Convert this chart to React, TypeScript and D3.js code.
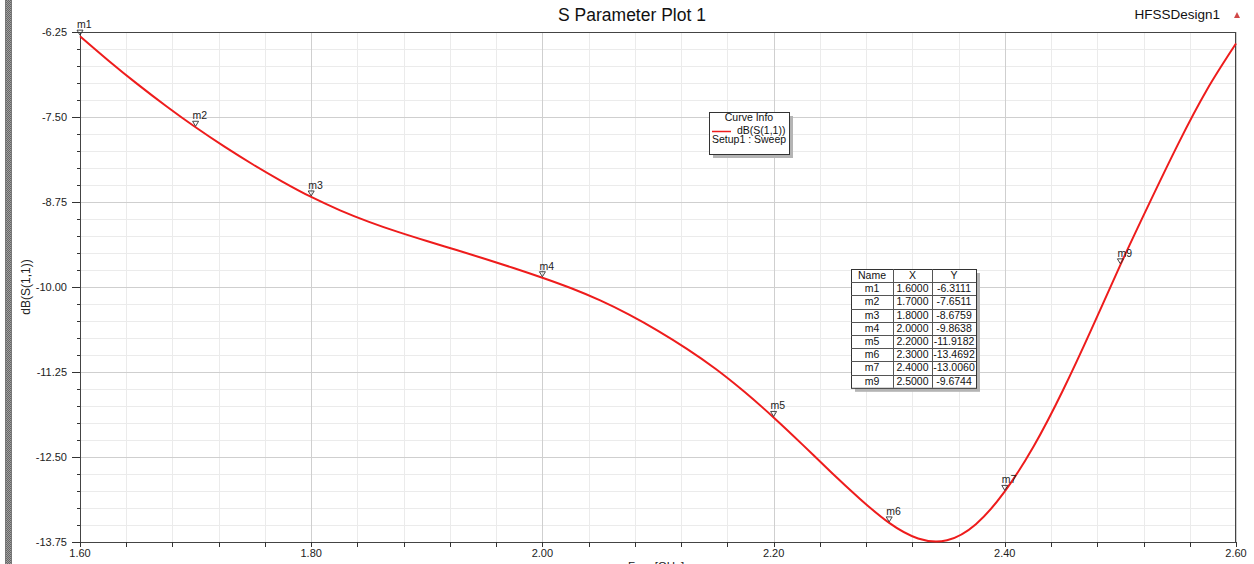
import React from "react";
import * as d3 from "d3";

// ---- Data ----
const freqGHz = [1.6, 1.625, 1.65, 1.675, 1.7, 1.725, 1.75, 1.775, 1.8, 1.825, 1.85, 1.875, 1.9, 1.925, 1.95, 1.975, 2.0, 2.025, 2.05, 2.075, 2.1, 2.125, 2.15, 2.175, 2.2, 2.225, 2.25, 2.275, 2.3, 2.325, 2.35, 2.375, 2.4, 2.425, 2.45, 2.475, 2.5, 2.525, 2.55, 2.575, 2.6];
const s11dB = [-6.3111, -6.675, -7.02, -7.345, -7.6511, -7.936, -8.202, -8.449, -8.6759, -8.872, -9.042, -9.19, -9.324, -9.453, -9.584, -9.72, -9.8638, -10.019, -10.198, -10.407, -10.645, -10.91, -11.206, -11.545, -11.9182, -12.318, -12.728, -13.12, -13.4692, -13.698, -13.724, -13.488, -13.006, -12.343, -11.53, -10.62, -9.6744, -8.77, -7.895, -7.095, -6.42];

const markerNames = ["m1", "m2", "m3", "m4", "m5", "m6", "m7", "m9"];
const markerX = [1.6, 1.7, 1.8, 2.0, 2.2, 2.3, 2.4, 2.5];
const markerY = [-6.3111, -7.6511, -8.6759, -9.8638, -11.9182, -13.4692, -13.006, -9.6744];

const xMajorTicks = [1.6, 1.8, 2.0, 2.2, 2.4, 2.6];
const yMajorTicks = [-6.25, -7.5, -8.75, -10.0, -11.25, -12.5, -13.75];
const xMinorStep = 0.04;
const yMinorStep = 0.25;

const title = "S Parameter Plot 1";
const designName = "HFSSDesign1";
const xLabel = "Freq [GHz]";
const yLabel = "dB(S(1,1))";
const legendTitle = "Curve Info";
const legendTrace = "dB(S(1,1))";
const legendSetup = "Setup1 : Sweep";
const tableHeader = ["Name", "X", "Y"];

const W = 1254;
const H = 564;
const PL = 80, PR = 1236, PT = 32, PB = 542;
const FONT = "'Liberation Sans', Arial, sans-serif";

export default function App() {
  const x = d3.scaleLinear().domain([1.6, 2.6]).range([PL, PR]);
  const y = d3.scaleLinear().domain([-13.75, -6.25]).range([PB, PT]);
  const fmt = (v: number) => v.toFixed(2);
  const fmt4 = (v: number) => v.toFixed(4);

  const xMinor = d3.range(0, Math.round(1.0 / xMinorStep) + 1).map((i) => 1.6 + i * xMinorStep);
  const yMinor = d3.range(0, Math.round(7.5 / yMinorStep) + 1).map((i) => -6.25 - i * yMinorStep);
  const isXMajor = (v: number) => xMajorTicks.some((t) => Math.abs(t - v) < 1e-6);
  const isYMajor = (v: number) => yMajorTicks.some((t) => Math.abs(t - v) < 1e-6);
  const px = (v: number) => Math.round(x(v)) + 0.5;
  const py = (v: number) => Math.round(y(v)) + 0.5;

  const pts: [number, number][] = freqGHz.map((f, i) => [f, s11dB[i]]);
  const line = d3
    .line<[number, number]>()
    .x((d) => x(d[0]))
    .y((d) => y(d[1]))
    .curve(d3.curveNatural);

  // legend box
  const lgX = 709, lgY = 112, lgW = 80, lgH = 42;
  // table
  const tbX = 851, tbY = 269, rowH = 13.2;
  const colW = [42, 39, 44];
  const tbW = colW[0] + colW[1] + colW[2];
  const tbH = rowH * (markerNames.length + 1);
  const colX = [tbX, tbX + colW[0], tbX + colW[0] + colW[1], tbX + tbW];

  return (
    <svg
      width={W}
      height={H}
      style={{ position: "absolute", left: 0, top: 0, display: "block", background: "#fff" }}
      fontFamily={FONT}
    >
      <defs>
        <pattern id="dither" width={2} height={2} patternUnits="userSpaceOnUse">
          <rect width={2} height={2} fill="#a0a0a0" />
          <rect width={1} height={1} fill="#666" />
          <rect x={1} y={1} width={1} height={1} fill="#666" />
        </pattern>
      </defs>
      <rect x={0} y={0} width={W} height={H} fill="#fff" />
      {/* left dithered bar */}
      <rect x={5} y={0} width={7} height={H} fill="url(#dither)" />
      <rect x={5} y={0} width={1} height={H} fill="#777" />
      <rect x={11} y={0} width={1} height={H} fill="#777" />

      {/* title */}
      <text x={632} y={21} textAnchor="middle" fontSize={17.5} fill="#111">{title}</text>
      <text x={1220} y={19} textAnchor="end" fontSize={13.5} fill="#111">{designName}</text>
      <path d="M1234,18 L1237,12 L1240,18 Z" fill="#d04848" />

      {/* grid */}
      {xMinor.map((v, i) =>
        isXMajor(v) ? null : (
          <line key={"gx" + i} x1={px(v)} x2={px(v)} y1={PT} y2={PB} stroke="#ebebeb" strokeWidth={1} />
        )
      )}
      {yMinor.map((v, i) =>
        isYMajor(v) ? null : (
          <line key={"gy" + i} x1={PL} x2={PR} y1={py(v)} y2={py(v)} stroke="#ebebeb" strokeWidth={1} />
        )
      )}
      {xMajorTicks.map((v, i) => (
        <line key={"gX" + i} x1={px(v)} x2={px(v)} y1={PT} y2={PB} stroke="#cfcfcf" strokeWidth={1} />
      ))}
      {yMajorTicks.map((v, i) => (
        <line key={"gY" + i} x1={PL} x2={PR} y1={py(v)} y2={py(v)} stroke="#cfcfcf" strokeWidth={1} />
      ))}

      {/* plot frame */}
      <rect x={PL + 0.5} y={PT + 0.5} width={PR - PL - 1} height={PB - PT} fill="none" stroke="#444" strokeWidth={1} />

      {/* y ticks */}
      {yMinor.map((v, i) => (
        <line key={"ty" + i} x1={isYMajor(v) ? PL - 8 : PL - 3} x2={PL} y1={py(v)} y2={py(v)} stroke="#333" strokeWidth={1} />
      ))}
      {yMajorTicks.map((v, i) => (
        <text key={"ly" + i} x={67} y={y(v) + 4} textAnchor="end" fontSize={11} fill="#222">{fmt(v)}</text>
      ))}
      {/* x ticks */}
      {xMinor.map((v, i) => (
        <line key={"tx" + i} x1={px(v)} x2={px(v)} y1={PB} y2={PB + 5} stroke="#333" strokeWidth={1} />
      ))}
      {xMajorTicks.map((v, i) => (
        <text key={"lx" + i} x={x(v)} y={557} textAnchor="middle" fontSize={11} fill="#222">{fmt(v)}</text>
      ))}

      {/* axis labels */}
      <text x={656} y={570} textAnchor="middle" fontSize={11.5} fill="#222">{xLabel}</text>
      <text transform={`translate(30,${(PT + PB) / 2}) rotate(-90)`} textAnchor="middle" fontSize={12} fill="#222">{yLabel}</text>

      {/* curve */}
      <path d={line(pts) || ""} fill="none" stroke="#ee1c1c" strokeWidth={2} />

      {/* markers */}
      {markerNames.map((n, i) => {
        const mx = x(markerX[i]);
        const my = y(markerY[i]);
        return (
          <g key={"m" + i}>
            <path d={`M${mx - 3},${my - 6} L${mx + 3},${my - 6} L${mx},${my - 1} Z`} fill="none" stroke="#333" strokeWidth={0.9} />
            <text x={mx - 3} y={my - 8} fontSize={10.5} fill="#222">{n}</text>
          </g>
        );
      })}

      {/* legend */}
      <rect x={lgX + 4} y={lgY + 4} width={lgW} height={lgH} fill="#b4b4b4" />
      <rect x={lgX + 0.5} y={lgY + 0.5} width={lgW} height={lgH} fill="#fff" stroke="#333" strokeWidth={1} />
      <text x={lgX + lgW / 2} y={lgY + 9} textAnchor="middle" fontSize={10.5} fill="#111">{legendTitle}</text>
      <line x1={lgX + 3} x2={lgX + 22} y1={lgY + 19.5} y2={lgY + 19.5} stroke="#ee1c1c" strokeWidth={1.5} />
      <text x={lgX + 28} y={lgY + 21.5} fontSize={10.5} fill="#111">{legendTrace}</text>
      <text x={lgX + 3} y={lgY + 31} fontSize={10.5} fill="#111">{legendSetup}</text>

      {/* marker table */}
      <rect x={tbX + 4} y={tbY + 4} width={tbW} height={tbH} fill="#b4b4b4" />
      <rect x={tbX + 0.5} y={tbY + 0.5} width={tbW} height={tbH} fill="#fff" stroke="#333" strokeWidth={1} />
      {d3.range(1, markerNames.length + 1).map((r) => (
        <line key={"tr" + r} x1={tbX} x2={tbX + tbW} y1={Math.round(tbY + r * rowH) + 0.5} y2={Math.round(tbY + r * rowH) + 0.5} stroke="#555" strokeWidth={1} />
      ))}
      {[1, 2].map((c) => (
        <line key={"tc" + c} x1={colX[c] + 0.5} x2={colX[c] + 0.5} y1={tbY} y2={tbY + tbH} stroke="#555" strokeWidth={1} />
      ))}
      {tableHeader.map((h, c) => (
        <text key={"th" + c} x={(colX[c] + colX[c + 1]) / 2} y={tbY + 10} textAnchor="middle" fontSize={10.5} fill="#111">{h}</text>
      ))}
      {markerNames.map((n, r) => {
        const ty = tbY + (r + 1) * rowH + 10;
        return (
          <g key={"row" + r}>
            <text x={(colX[0] + colX[1]) / 2} y={ty} textAnchor="middle" fontSize={10.5} fill="#111">{n}</text>
            <text x={(colX[1] + colX[2]) / 2} y={ty} textAnchor="middle" fontSize={10.5} fill="#111">{fmt4(markerX[r])}</text>
            <text x={(colX[2] + colX[3]) / 2} y={ty} textAnchor="middle" fontSize={10.5} fill="#111">{fmt4(markerY[r])}</text>
          </g>
        );
      })}
    </svg>
  );
}
